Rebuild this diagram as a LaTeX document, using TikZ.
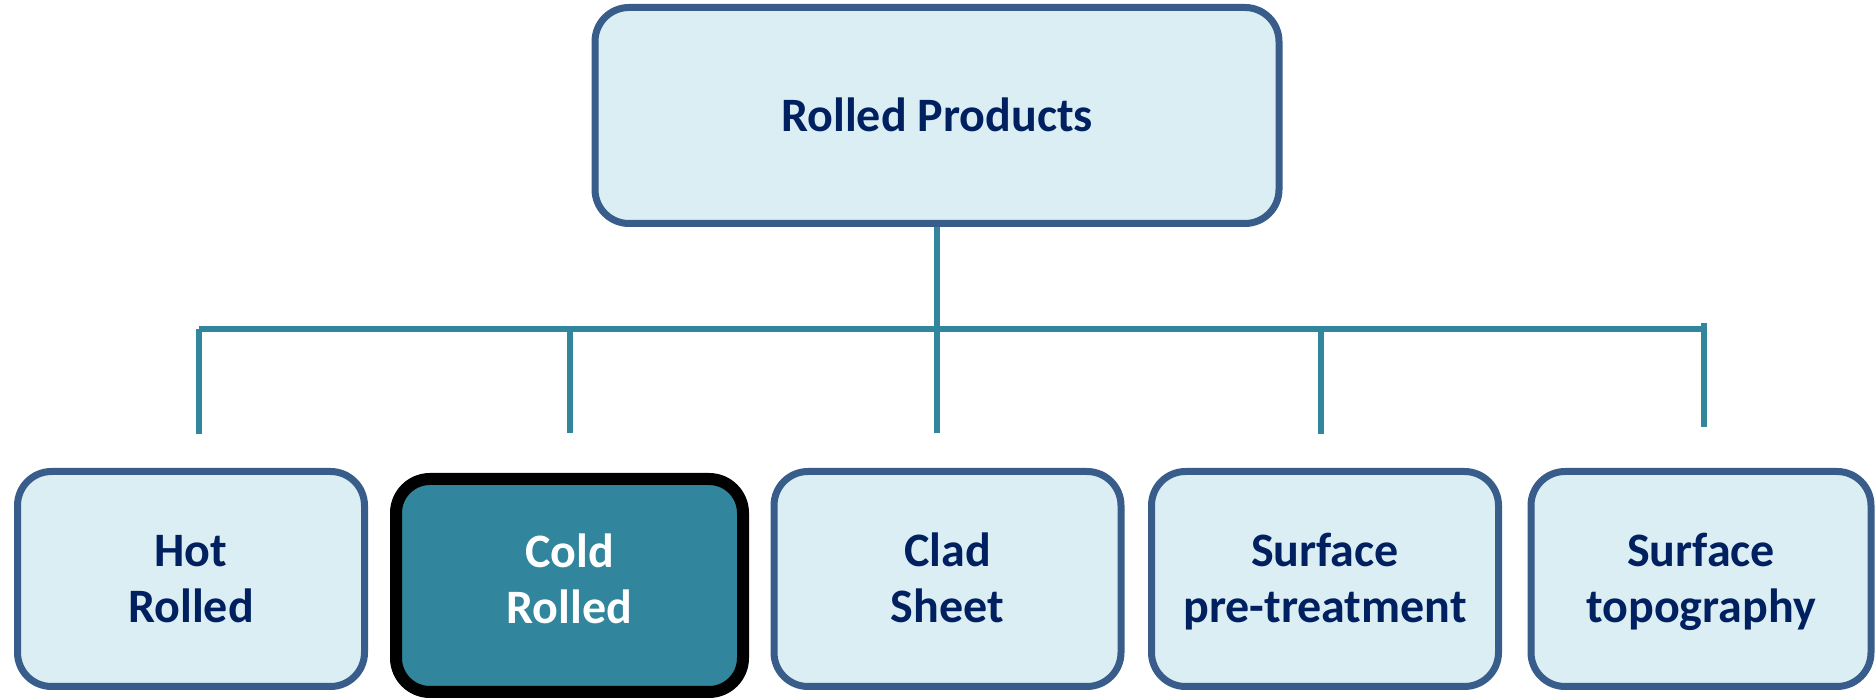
\documentclass[tikz,border=0pt]{standalone}
\usepackage{fontspec}
\setmainfont{Carlito}
\definecolor{boxfill}{RGB}{219,238,243}
\definecolor{boxline}{RGB}{56,93,138}
\definecolor{linkteal}{RGB}{49,133,156}
\definecolor{txtnavy}{RGB}{0,32,96}
\newcommand\prodtop{\rule{0pt}{51pt}}
\newcommand\prodtopone{\rule{0pt}{23.5pt}}
\newcommand\prodtoplow{\rule{0pt}{44.5pt}}
\newcommand\prodbot{\rule[-7pt]{0pt}{7pt}}
\tikzset{
  prod/.style={draw=boxline, line width=3.5pt, fill=boxfill, rounded corners=17pt,
    minimum width=173.5pt, minimum height=107.5pt, inner sep=0pt, align=center,
    text=txtnavy, font=\fontsize{24}{28}\selectfont\bfseries,
    execute at end node=\prodbot},
  twoline/.style={execute at begin node=\prodtop},
  link/.style={draw=linkteal, line width=3pt}
}
\begin{document}
\begin{tikzpicture}[x=0.5pt,y=-0.5pt]
  \useasboundingbox (0,0) rectangle (1875,699);
  \node[prod, minimum width=342pt, minimum height=108pt, execute at begin node=\prodtopone]
    (top) at (937,115.5) {Rolled Products};
  \node[prod, twoline] (hot) at (191,579) {Hot\\Rolled};
  \node[prod, draw=black, line width=6pt, fill=linkteal, text=white, minimum height=106.5pt,
    execute at begin node=\prodtoplow] (cold) at (569.5,585.5) {Cold\\Rolled};
  \node[prod, twoline] (clad) at (947.5,579) {Clad\\Sheet};
  \node[prod, twoline] (pretreat) at (1325,579) {Surface\\pre-treatment};
  \node[prod, twoline, minimum width=170pt] (topo) at (1701,579) {Surface\\topography};
  \coordinate (barL) at (199,329); \coordinate (barR) at (1704,329);
  \coordinate (d1) at (199,434); \coordinate (d2) at (570,433); \coordinate (d3) at (937,433);
  \coordinate (d4) at (1321,434); \coordinate (d5) at (1704,427);
  \draw[link] (top.south) -- (d3);
  \draw[link] (barL) -- (barR);
  \draw[link] (barL) -- (d1);
  \draw[link] (d2 |- barL) -- (d2);
  \draw[link] (d4 |- barL) -- (d4);
  \draw[link] (1704,323) -- (d5);
\end{tikzpicture}
\end{document}
